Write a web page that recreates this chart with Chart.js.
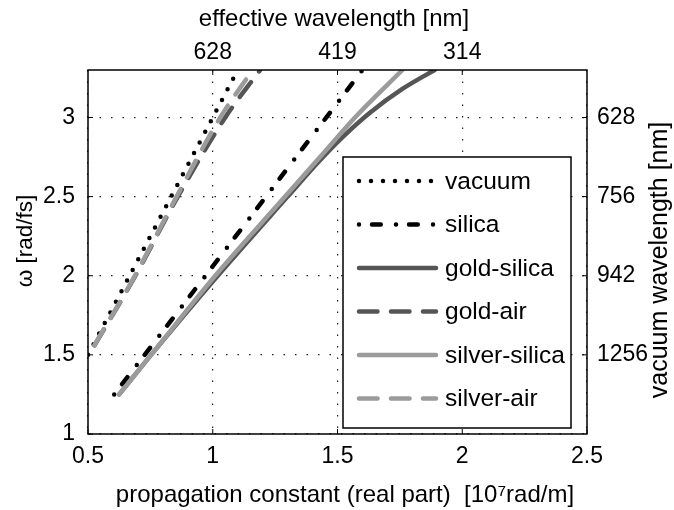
<!DOCTYPE html>
<html>
<head>
<meta charset="utf-8">
<script src="https://cdn.jsdelivr.net/npm/chart.js@4.4.0/dist/chart.umd.min.js"></script>
<style>
  html, body { margin: 0; padding: 0; background: #fff; }
  canvas { display: block; }
</style>
</head>
<body>
<canvas id="dispersion" width="674" height="510"></canvas>
<script>
// Dispersion of plasmonic and dielectric guides: omega vs Re(beta)
const FONT = "'Liberation Sans', Arial, Helvetica, sans-serif";

// propagation constant [1e7 rad/m] / angular frequency [rad/fs]
const vacuumB = [0.5, 1.1];
const vacuumW = [1.5, 3.3];

const silicaB = [0.605, 1.0, 1.6];
const silicaW = [1.25, 2.06, 3.3];

const goldSilicaB = [0.625, 0.753, 1.02, 1.30, 1.43, 1.53, 1.63, 1.76, 1.889];
const goldSilicaW = [1.25, 1.5, 2.0, 2.5, 2.73, 2.89, 3.03, 3.18, 3.3];

const goldAirB = [0.526, 0.69, 0.86, 1.05, 1.19];
const goldAirW = [1.56, 2.0, 2.5, 3.0, 3.3];

const silverSilicaB = [0.625, 0.753, 1.01, 1.29, 1.43, 1.57, 1.76];
const silverSilicaW = [1.25, 1.5, 2.0, 2.5, 2.75, 3.0, 3.3];

const silverAirB = [0.525, 0.688, 0.855, 1.03, 1.16];
const silverAirW = [1.56, 2.0, 2.5, 3.0, 3.3];

// axis ticks
const betaTicks = [0.5, 1, 1.5, 2, 2.5];
const betaTickLabels = ["0.5", "1", "1.5", "2", "2.5"];
const omegaTicks = [1, 1.5, 2, 2.5, 3];
const omegaTickLabels = ["1", "1.5", "2", "2.5", "3"];
const effTicks = [1, 1.5, 2];
const effTickLabels = ["628", "419", "314"];
const vacTicks = [1.5, 2, 2.5, 3];
const vacTickLabels = ["1256", "942", "756", "628"];

const DARK = "rgb(85,85,85)";
const LIGHT = "rgb(155,155,155)";

function points(xs, ys) {
    return xs.map((x, i) => ({ x: x, y: ys[i] }));
}

function series(label, xs, ys, color, dash, order) {
    return {
        label: label,
        data: points(xs, ys),
        borderColor: color,
        backgroundColor: color,
        borderWidth: 4.5,
        borderDash: dash,
        borderCapStyle: "round",
        borderJoinStyle: "round",
        showLine: true,
        pointRadius: 0,
        cubicInterpolationMode: "monotone",
        order: order,
    };
}

const datasets = [
    series("vacuum", vacuumB, vacuumW, "#000", [0, 12], 5),
    series("silica", silicaB, silicaW, "#000", [0, 13, 8.75, 15.25], 4),
    series("gold-silica", goldSilicaB, goldSilicaW, DARK, [], 3),
    series("gold-air", goldAirB, goldAirW, DARK, [18.5, 13.5], 2),
    series("silver-silica", silverSilicaB, silverSilicaW, LIGHT, [], 1),
    series("silver-air", silverAirB, silverAirW, LIGHT, [18.5, 13.5], 0),
];

const tickFont = { family: FONT, size: 23 };

function fixedTicks(values) {
    return function (scale) {
        scale.ticks = values.map((v) => ({ value: v }));
    };
}

// frame, inward tick marks, legend box and axis titles
const decor = {
    id: "decor",
    afterDatasetsDraw(chart) {
        const { ctx, chartArea: a, scales } = chart;
        ctx.save();
        ctx.setLineDash([]);
        ctx.strokeStyle = "#000";
        ctx.lineWidth = 1.5;
        ctx.strokeRect(a.left, a.top, a.width, a.height);

        const len = 5;
        ctx.beginPath();
        scales.x.ticks.forEach((t) => {
            const p = scales.x.getPixelForValue(t.value);
            ctx.moveTo(p, a.bottom);
            ctx.lineTo(p, a.bottom - len);
        });
        scales.xTop.ticks.forEach((t) => {
            const p = scales.xTop.getPixelForValue(t.value);
            ctx.moveTo(p, a.top);
            ctx.lineTo(p, a.top + len);
        });
        scales.y.ticks.forEach((t) => {
            const p = scales.y.getPixelForValue(t.value);
            ctx.moveTo(a.left, p);
            ctx.lineTo(a.left + len, p);
        });
        scales.yRight.ticks.forEach((t) => {
            const p = scales.yRight.getPixelForValue(t.value);
            ctx.moveTo(a.right, p);
            ctx.lineTo(a.right - len, p);
        });
        ctx.lineWidth = 1;
        ctx.stroke();

        // legend
        const box = { x: 343, y: 157, w: 228, h: 271 };
        ctx.fillStyle = "#fff";
        ctx.fillRect(box.x, box.y, box.w, box.h);
        ctx.lineWidth = 1.5;
        ctx.strokeRect(box.x, box.y, box.w, box.h);
        ctx.font = "24.5px " + FONT;
        ctx.textBaseline = "middle";
        ctx.textAlign = "left";
        chart.data.datasets.forEach((ds, i) => {
            const y = 181 + i * 43.5;
            ctx.beginPath();
            ctx.strokeStyle = ds.borderColor;
            ctx.lineWidth = ds.borderWidth;
            ctx.lineCap = "round";
            ctx.setLineDash(ds.borderDash);
            ctx.moveTo(359, y);
            ctx.lineTo(436, y);
            ctx.stroke();
            ctx.setLineDash([]);
            ctx.fillStyle = "#000";
            ctx.fillText(ds.label, 445, y + 1);
        });

        // axis titles
        ctx.fillStyle = "#000";
        ctx.textAlign = "center";
        ctx.font = "24px " + FONT;
        ctx.fillText("effective wavelength [nm]", 334, 19);
        ctx.fillText("propagation constant (real part)  [10\u2077rad/m]", 345, 495);
        ctx.save();
        ctx.font = "22.5px " + FONT;
        ctx.translate(26, 241);
        ctx.rotate(-Math.PI / 2);
        ctx.fillText("\u03c9 [rad/fs]", 0, 0);
        ctx.restore();
        ctx.save();
        ctx.font = "25px " + FONT;
        ctx.translate(660, 260);
        ctx.rotate(-Math.PI / 2);
        ctx.fillText("vacuum wavelength [nm]", 0, 0);
        ctx.restore();
        ctx.restore();
    },
};

const config = {
    type: "scatter",
    data: { datasets: datasets },
    options: {
        responsive: false,
        devicePixelRatio: 1,
        animation: false,
        layout: { padding: 0 },
        plugins: { legend: { display: false }, tooltip: { enabled: false } },
        scales: {
            x: {
                type: "linear",
                position: "bottom",
                min: 0.5,
                max: 2.5,
                afterBuildTicks: fixedTicks(betaTicks),
                afterFit: (s) => { s.height = 76; },
                ticks: {
                    padding: 9,
                    color: "#000",
                    font: tickFont,
                    maxRotation: 0,
                    callback: (v, i) => betaTickLabels[i],
                },
                grid: { color: "#222", lineWidth: 1.2, drawTicks: false },
                border: { display: false, dash: [1.5, 10] },
            },
            xTop: {
                type: "linear",
                position: "top",
                min: 0.5,
                max: 2.5,
                afterBuildTicks: fixedTicks(effTicks),
                afterFit: (s) => { s.height = 70; },
                ticks: {
                    padding: 4,
                    color: "#000",
                    font: tickFont,
                    maxRotation: 0,
                    callback: (v, i) => effTickLabels[i],
                },
                grid: { display: false, drawTicks: false },
                border: { display: false },
            },
            y: {
                type: "linear",
                position: "left",
                min: 1,
                max: 3.3,
                afterBuildTicks: fixedTicks(omegaTicks),
                afterFit: (s) => { s.width = 88; },
                ticks: {
                    padding: 13,
                    color: "#000",
                    font: tickFont,
                    callback: (v, i) => omegaTickLabels[i],
                },
                grid: { color: "#222", lineWidth: 1.2, drawTicks: false },
                border: { display: false, dash: [1.5, 10] },
            },
            yRight: {
                type: "linear",
                position: "right",
                min: 1,
                max: 3.3,
                afterBuildTicks: fixedTicks(vacTicks),
                afterFit: (s) => { s.width = 87; },
                ticks: {
                    padding: 10,
                    color: "#000",
                    font: tickFont,
                    callback: (v, i) => vacTickLabels[i],
                },
                grid: { display: false, drawTicks: false },
                border: { display: false },
            },
        },
    },
    plugins: [decor],
};

const dispersionChart = new Chart(
    document.getElementById("dispersion").getContext("2d"),
    config
);
</script>
</body>
</html>
